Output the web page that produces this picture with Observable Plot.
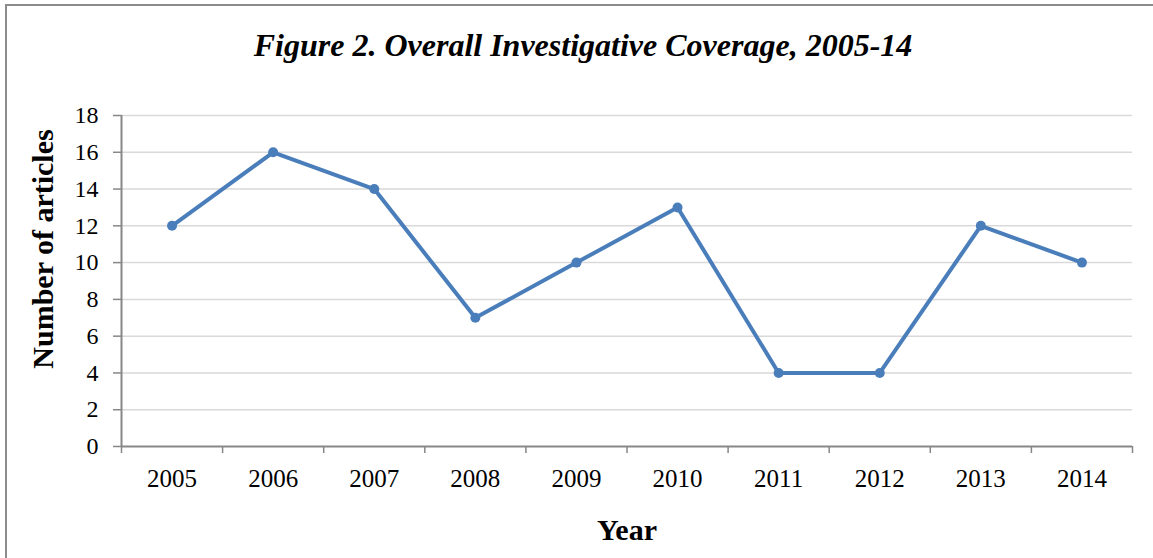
<!DOCTYPE html>
<html><head><meta charset="utf-8">
<script src="https://cdn.jsdelivr.net/npm/d3@7"></script>
<script src="https://cdn.jsdelivr.net/npm/@observablehq/plot@0.6"></script>
<style>
html,body{margin:0;padding:0;background:#fff;}
#wrap{position:relative;width:1153px;height:558px;overflow:hidden;}
#border{position:absolute;left:5px;top:4px;width:2000px;height:2000px;border-left:2px solid #8c8c8c;border-top:2px solid #8c8c8c;pointer-events:none;}
#wrap svg{position:absolute;left:0;top:0;}
</style></head><body>
<div id="wrap"><div id="border"></div></div>
<script>
const years = ["2005","2006","2007","2008","2009","2010","2011","2012","2013","2014"];
const articles = [12,16,14,7,10,13,4,4,12,10];
const yTicks = [0,2,4,6,8,10,12,14,16,18];
const title = "Figure 2. Overall Investigative Coverage, 2005-14";
const xTitle = "Year";
const yTitle = "Number of articles";

const n = years.length;
const data = years.map((y, i) => ({year: y, pos: i + 0.5, value: articles[i]}));
const serif = "'Liberation Serif','Times New Roman',serif";
const axisGray = "#878787";
const lineBlue = "#4a7ebb";

const chart = Plot.plot({
  width: 1153, height: 558,
  marginLeft: 121, marginRight: 21, marginTop: 115, marginBottom: 112,
  style: {fontFamily: serif, fontSize: "24px", background: "transparent", color: "#000", overflow: "visible"},
  x: {domain: [0, n]},
  y: {domain: [0, 18]},
  marks: [
    Plot.gridY(yTicks.filter(d => d > 0), {stroke: "#d9d9d9", strokeOpacity: 1, strokeWidth: 1.5}),
    Plot.axisY({ticks: yTicks, tickSize: 8, tickPadding: 15, fontSize: 24, stroke: axisGray, strokeWidth: 1.5, fill: "#000", label: null}),
    Plot.axisX({ticks: d3.range(n + 1), tickSize: 7, tickFormat: () => "", stroke: axisGray, strokeWidth: 1.5, label: null}),
    Plot.axisX({ticks: d3.range(n).map(i => i + 0.5), tickSize: 0, tickPadding: 23, tickFormat: d => years[Math.floor(d)], fontSize: 25, fill: "#000", label: null}),
    Plot.ruleX([0], {stroke: axisGray, strokeWidth: 2}),
    Plot.ruleY([0], {stroke: axisGray, strokeWidth: 2}),
    Plot.line(data, {x: "pos", y: "value", stroke: lineBlue, strokeWidth: 4}),
    Plot.dot(data, {x: "pos", y: "value", r: 5, fill: lineBlue, stroke: "none"}),
    Plot.text([title], {frameAnchor: "top", lineAnchor: "bottom", dx: -44, dy: -60, fontSize: 32, fontWeight: "bold", fontStyle: "italic", fill: "#000"}),
    Plot.text([xTitle], {frameAnchor: "bottom", lineAnchor: "bottom", dy: 93, fontSize: 30, fontWeight: "bold", fill: "#000"}),
    Plot.text([yTitle], {frameAnchor: "left", textAnchor: "middle", lineAnchor: "bottom", rotate: -90, dx: -69, dy: -32, fontSize: 30, fontWeight: "bold", fill: "#000"})
  ]
});
document.getElementById("wrap").appendChild(chart);
</script>
</body></html>
